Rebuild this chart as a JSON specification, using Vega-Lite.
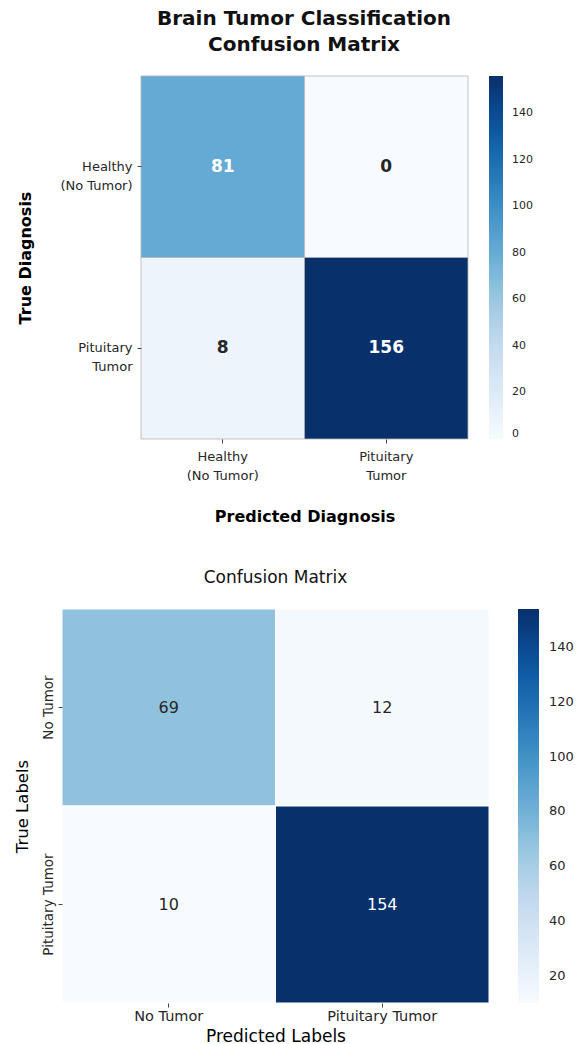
{
  "$schema": "https://vega.github.io/schema/vega-lite/v6.json",
  "background": "white",
  "padding": {"left": 14, "top": 8, "right": 5, "bottom": 2},
  "config": {
    "font": "DejaVu Sans",
    "view": {"stroke": null},
    "axis": {"domain": false, "grid": false, "tickColor": "#444444", "tickSize": 4, "labelColor": "#262626", "titleColor": "#000000", "labelFont": "DejaVu Sans", "titleFont": "DejaVu Sans", "bandPosition": 0.5},
    "legend": {"labelFont": "DejaVu Sans", "labelColor": "#262626", "gradientStrokeWidth": 0, "padding": 0}
  },
  "datasets": {
    "top": [
      {"actual": "Healthy (No Tumor)", "predicted": "Healthy (No Tumor)", "count": 81},
      {"actual": "Healthy (No Tumor)", "predicted": "Pituitary Tumor", "count": 0},
      {"actual": "Pituitary Tumor", "predicted": "Healthy (No Tumor)", "count": 8},
      {"actual": "Pituitary Tumor", "predicted": "Pituitary Tumor", "count": 156}
    ],
    "bottom": [
      {"actual": "No Tumor", "predicted": "No Tumor", "count": 69},
      {"actual": "No Tumor", "predicted": "Pituitary Tumor", "count": 12},
      {"actual": "Pituitary Tumor", "predicted": "No Tumor", "count": 10},
      {"actual": "Pituitary Tumor", "predicted": "Pituitary Tumor", "count": 154}
    ]
  },
  "spacing": 44,
  "resolve": {"scale": {"color": "independent"}, "legend": {"color": "independent"}},
  "vconcat": [
    {
      "title": {"text": ["Brain Tumor Classification", "Confusion Matrix"], "fontSize": 20, "fontWeight": "bold", "lineHeight": 26, "offset": 21, "anchor": "middle", "dx": 39, "color": "#111111"},
      "width": 406,
      "height": 363,
      "data": {"name": "top"},
      "encoding": {
        "x": {"field": "predicted", "type": "nominal", "sort": ["Healthy (No Tumor)", "Pituitary Tumor"], "scale": {"paddingInner": 0, "paddingOuter": 0.2416, "align": 1},
          "axis": {"title": "Predicted Diagnosis", "titleFontSize": 16, "titleFontWeight": "bold", "titlePadding": 26, "titleX": 242.5, "labelAngle": 0, "labelFontSize": 13, "labelLineHeight": 19, "labelPadding": 7,
            "labelExpr": "datum.label == 'Healthy (No Tumor)' ? ['Healthy', '(No Tumor)'] : ['Pituitary', 'Tumor']"}},
        "y": {"field": "actual", "type": "nominal", "sort": ["Healthy (No Tumor)", "Pituitary Tumor"], "scale": {"paddingInner": 0, "paddingOuter": 0},
          "axis": {"offset": -79, "title": "True Diagnosis", "titleFontSize": 16, "titleFontWeight": "bold", "titlePadding": 26, "labelAngle": 0, "labelFontSize": 13, "labelLineHeight": 19, "labelPadding": 5,
            "labelExpr": "datum.label == 'Healthy (No Tumor)' ? ['Healthy', '(No Tumor)'] : ['Pituitary', 'Tumor']"}}
      },
      "layer": [
        {
          "mark": {"type": "rect", "stroke": "#b4b4b4", "strokeWidth": 0.8},
          "encoding": {
            "color": {"field": "count", "type": "quantitative",
              "scale": {"domain": [0, 19.5, 39, 58.5, 78, 97.5, 117, 136.5, 156], "range": ["#f7fbff", "#deebf7", "#c6dbef", "#9ecae1", "#6baed6", "#4292c6", "#2171b5", "#08519c", "#08306b"]},
              "legend": {"title": null, "direction": "vertical", "gradientLength": 363, "gradientThickness": 14, "offset": 21, "labelFontSize": 11, "labelOffset": 9, "values": [0, 20, 40, 60, 80, 100, 120, 140], "labelBaseline": "middle"}}
          }
        },
        {
          "mark": {"type": "text", "fontSize": 17, "fontWeight": "bold"},
          "encoding": {
            "text": {"field": "count", "type": "quantitative"},
            "color": {"condition": {"test": "datum.count > 70", "value": "#ffffff"}, "value": "#262626"}
          }
        }
      ]
    },
    {
      "title": {"text": "Confusion Matrix", "fontSize": 17, "fontWeight": "normal", "offset": 22, "anchor": "middle", "color": "#111111"},
      "width": 427,
      "height": 394,
      "data": {"name": "bottom"},
      "encoding": {
        "x": {"field": "predicted", "type": "nominal", "sort": ["No Tumor", "Pituitary Tumor"], "scale": {"paddingInner": 0, "paddingOuter": 0},
          "axis": {"title": "Predicted Labels", "titleFontSize": 17, "titleFontWeight": "normal", "titlePadding": 6, "labelAngle": 0, "labelFontSize": 14.5, "labelPadding": 2}},
        "y": {"field": "actual", "type": "nominal", "sort": ["No Tumor", "Pituitary Tumor"], "scale": {"paddingInner": 0, "paddingOuter": 0},
          "axis": {"title": "True Labels", "titleFontSize": 16.5, "titleFontWeight": "normal", "titlePadding": 11, "labelAngle": -90, "labelAlign": "center", "labelBaseline": "bottom", "labelFontSize": 13.5, "labelPadding": 3}}
      },
      "layer": [
        {
          "mark": {"type": "rect", "stroke": "#ffffff", "strokeWidth": 1},
          "encoding": {
            "color": {"field": "count", "type": "quantitative",
              "scale": {"domain": [10, 28, 46, 64, 82, 100, 118, 136, 154], "range": ["#f7fbff", "#deebf7", "#c6dbef", "#9ecae1", "#6baed6", "#4292c6", "#2171b5", "#08519c", "#08306b"]},
              "legend": {"title": null, "direction": "vertical", "gradientLength": 394, "gradientThickness": 21, "offset": 29, "labelFontSize": 13, "labelOffset": 10, "values": [20, 40, 60, 80, 100, 120, 140], "labelBaseline": "middle"}}
          }
        },
        {
          "mark": {"type": "text", "fontSize": 16, "fontWeight": "normal"},
          "encoding": {
            "text": {"field": "count", "type": "quantitative"},
            "color": {"condition": {"test": "datum.count > 100", "value": "#ffffff"}, "value": "#262626"}
          }
        }
      ]
    }
  ]
}
